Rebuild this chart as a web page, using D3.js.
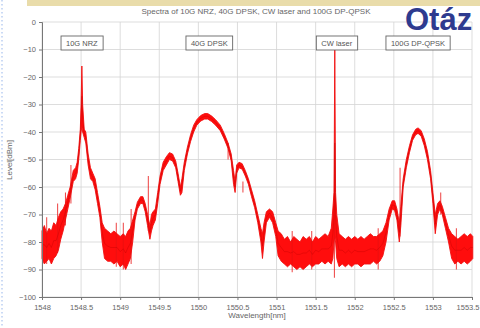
<!DOCTYPE html>
<html>
<head>
<meta charset="utf-8">
<script src="https://cdn.jsdelivr.net/npm/d3@7"></script>
<style>
html,body{margin:0;padding:0;background:#fff;overflow:hidden;}
svg{display:block;font-family:"Liberation Sans",Arial,sans-serif;}
</style>
</head>
<body>
<svg id="c" width="480" height="328"></svg>
<script>
// ---- data ----
const wavelength = [1548.00,1548.03,1548.06,1548.09,1548.12,1548.15,1548.18,1548.21,1548.24,1548.27,1548.30,1548.33,1548.36,1548.40,1548.43,1548.45,1548.47,1548.49,1548.50,1548.51,1548.52,1548.54,1548.56,1548.59,1548.62,1548.65,1548.68,1548.71,1548.74,1548.77,1548.80,1548.84,1548.88,1548.92,1548.96,1549.00,1549.04,1549.07,1549.10,1549.13,1549.16,1549.19,1549.22,1549.26,1549.29,1549.32,1549.35,1549.38,1549.40,1549.42,1549.45,1549.48,1549.51,1549.55,1549.59,1549.63,1549.67,1549.71,1549.74,1549.77,1549.79,1549.82,1549.86,1549.90,1549.94,1549.98,1550.03,1550.08,1550.12,1550.17,1550.22,1550.28,1550.33,1550.38,1550.42,1550.45,1550.47,1550.49,1550.52,1550.56,1550.60,1550.64,1550.68,1550.72,1550.76,1550.80,1550.82,1550.84,1550.87,1550.91,1550.95,1550.99,1551.02,1551.06,1551.10,1551.14,1551.18,1551.22,1551.26,1551.30,1551.34,1551.38,1551.42,1551.46,1551.50,1551.54,1551.58,1551.62,1551.66,1551.70,1551.72,1551.735,1551.745,1551.755,1551.77,1551.80,1551.84,1551.88,1551.92,1551.96,1552.00,1552.04,1552.08,1552.12,1552.16,1552.20,1552.24,1552.28,1552.32,1552.36,1552.40,1552.44,1552.48,1552.51,1552.54,1552.57,1552.59,1552.62,1552.66,1552.70,1552.74,1552.78,1552.81,1552.85,1552.89,1552.93,1552.97,1553.00,1553.03,1553.06,1553.09,1553.12,1553.16,1553.20,1553.24,1553.28,1553.32,1553.36,1553.40,1553.44,1553.48,1553.51];
const levelHigh = [-76,-74,-77,-75,-76,-73,-74,-71,-69,-68,-66,-63,-60,-54,-53,-51,-46,-39,-30,-16,-30,-39,-40,-48,-53,-55,-57,-62,-67,-73,-75,-76,-77,-76,-77,-78,-77,-78,-76,-75,-72,-69,-65.5,-63.5,-63.5,-66,-70,-74,-70,-69,-68,-62,-56,-51,-49,-47.5,-48,-50.5,-55,-60,-57,-51,-45.5,-41,-37.5,-35.5,-34,-33.3,-33.3,-34.2,-35.5,-37.5,-40.5,-44,-48,-54,-58,-52,-51,-51.5,-54,-57,-61,-65,-70,-75,-77,-73,-69,-68,-69,-73,-76,-77,-79,-78,-80,-78,-79,-80,-78,-79,-78,-80,-78,-79,-78,-77,-78,-75,-68,-62,-10,-62,-70,-77,-78,-79,-78,-79,-78,-79,-78,-79,-78,-77,-78,-78,-77,-76,-73,-68,-65,-65,-68,-73,-67,-57,-50,-45,-41,-39,-38.5,-39.5,-42.5,-47,-54,-62,-70,-66,-65,-67,-71,-75,-77,-78,-79,-78,-77,-78,-77,-78];
const levelLow = [-86,-88,-87,-86,-88,-86,-85,-83,-79,-76,-72,-68,-64,-58,-57,-55,-50,-43,-40,-38,-40,-42,-44,-52,-57,-58,-61,-66,-71,-80,-86,-87,-87,-88,-87,-89,-88,-90,-88,-86,-80,-72,-68,-66,-66,-69,-74,-79,-76,-74,-72,-66,-59,-54,-52,-50,-50.5,-53,-58,-63,-62,-54,-48,-43.5,-40,-37.5,-36,-35.3,-35.3,-36.2,-37.5,-39.5,-42.5,-46,-50.5,-59,-62,-55,-53,-53.5,-56,-59,-63.5,-67.5,-73,-80,-86,-80,-73,-71,-73,-78,-85,-87,-88,-89,-88,-89,-90,-89,-90,-89,-88,-89,-88,-88,-87,-88,-87,-88,-86,-80,-78,-80,-86,-89,-88,-89,-88,-89,-88,-88,-89,-88,-88,-88,-87,-88,-87,-85,-80,-72,-68,-68.5,-72,-80,-74,-60,-53,-47.5,-43,-41,-40.5,-41.5,-45,-50,-57,-66,-77,-70,-68,-70,-75,-80,-86,-88,-87,-88,-87,-88,-87,-86];
// isolated noise spikes: wavelength, top level, bottom level
const spikeWl = [1548.06,1548.20,1548.30,1548.37,1548.95,1549.04,1549.14,1549.36,1550.38,1550.57,1551.20,1551.45,1551.74,1552.30,1552.58,1553.10,1553.30];
const spikeTop = [-71,-66,-62,-52,-73,-73,-68,-56,-44,-58,-76,-76,-62,-75,-53,-62,-75];
const spikeBottom = [-88,-84,-74,-66,-89,-90,-88,-76,-50,-62,-91,-90,-93,-90,-78,-70,-90];

const xTickValues = [1548,1548.5,1549,1549.5,1550,1550.5,1551,1551.5,1552,1552.5,1553,1553.5];
const yTickValues = [0,-10,-20,-30,-40,-50,-60,-70,-80,-90,-100];

const annotLabels = ["10G NRZ","40G DPSK","CW laser","100G DP-QPSK"];
const annotWl = [1548.51,1550.14,1551.77,1552.81];

const titleText = "Spectra of 10G NRZ, 40G DPSK, CW laser and 100G DP-QPSK";
const xLabel = "Wavelength[nm]";
const yLabel = "Level[dBm]";
const slideText = "Otáz";

// ---- drawing ----
const svg = d3.select("#c");
const L = 42, R = 472, T = 22, B = 297;
const x = d3.scaleLinear().domain([1548,1553.5]).range([L,R]);
const y = d3.scaleLinear().domain([0,-100]).range([T,B]);

// slide decorations
svg.append("rect").attr("x",27).attr("y",0).attr("width",453).attr("height",6).attr("fill","#e9dcaa");
svg.append("line").attr("x1",2).attr("x2",2).attr("y1",0).attr("y2",328)
  .attr("stroke","#a9c2ee").attr("stroke-width",1.2).attr("stroke-dasharray","1.5,2.5");

// grid
svg.append("g").selectAll("line").data(xTickValues).join("line")
  .attr("x1",d=>x(d)).attr("x2",d=>x(d)).attr("y1",T).attr("y2",B)
  .attr("stroke","#d4d4d4").attr("stroke-width",0.8);
svg.append("g").selectAll("line").data(yTickValues).join("line")
  .attr("x1",L).attr("x2",R).attr("y1",d=>y(d)).attr("y2",d=>y(d))
  .attr("stroke","#d4d4d4").attr("stroke-width",0.8);

// spectrum band
const pts = wavelength.map((w,i)=>({w,hi:levelHigh[i],lo:levelLow[i]}));
const area = d3.area().x(d=>x(d.w)).y0(d=>y(d.lo)).y1(d=>y(d.hi));
svg.append("path").datum(pts).attr("d",area)
  .attr("fill","#ff0d0d").attr("stroke","#f01010").attr("stroke-width",0.9).attr("stroke-linejoin","round");
// spikes
svg.append("g").selectAll("line").data(spikeWl).join("line")
  .attr("x1",d=>x(d)).attr("x2",d=>x(d))
  .attr("y1",(d,i)=>y(spikeTop[i])).attr("y2",(d,i)=>y(spikeBottom[i]))
  .attr("stroke","#e81010").attr("stroke-width",0.8);
// darker core for the smooth parts
const core = d3.line().x(d=>x(d.w)).y(d=>y((d.hi+d.lo)/2));
svg.append("path").datum(pts).attr("d",core).attr("fill","none")
  .attr("stroke","#c00000").attr("stroke-width",0.8).attr("opacity",0.45);

// axes
const xAxis = d3.axisBottom(x).tickValues(xTickValues).tickSize(3).tickFormat(d3.format("~g"));
const gx = svg.append("g").attr("transform",`translate(0,${B})`).call(xAxis);
gx.select(".domain").attr("stroke","#777");
gx.selectAll(".tick line").attr("stroke","#777");
gx.selectAll("text").attr("fill","#666").attr("font-size",7.5).attr("dy","0.9em");
gx.selectAll(".tick").filter(d=>d===1553.5).select("text").attr("text-anchor","end").attr("x",7);
const yAxis = d3.axisLeft(y).tickValues(yTickValues).tickSize(3);
const gy = svg.append("g").attr("transform",`translate(${L},0)`).call(yAxis);
gy.select(".domain").attr("stroke","#777");
gy.selectAll(".tick line").attr("stroke","#777");
gy.selectAll("text").attr("fill","#666").attr("font-size",7.5);

// annotations
const ag = svg.append("g");
annotLabels.forEach((t,i)=>{
  const g = ag.append("g");
  const tx = g.append("text").attr("x",x(annotWl[i])).attr("y",45.5).attr("text-anchor","middle")
    .attr("font-size",7.5).attr("fill","#555").text(t);
  const bb = tx.node().getBBox();
  g.insert("rect","text").attr("x",bb.x-5).attr("y",36).attr("width",bb.width+10).attr("height",14)
    .attr("fill","#fff").attr("stroke","#666").attr("stroke-width",0.9);
});

// texts
svg.append("text").attr("x",256).attr("y",14).attr("text-anchor","middle")
  .attr("font-size",8).attr("fill","#666").text(titleText);
svg.append("text").attr("x",257).attr("y",318).attr("text-anchor","middle")
  .attr("font-size",8).attr("fill","#666").text(xLabel);
svg.append("text").attr("transform","translate(12,160) rotate(-90)").attr("text-anchor","middle")
  .attr("font-size",8).attr("fill","#666").text(yLabel);
svg.append("text").attr("x",405).attr("y",30).attr("font-size",31).attr("font-weight","bold")
  .attr("fill","#2e3b8f").text(slideText);
</script>
</body>
</html>
